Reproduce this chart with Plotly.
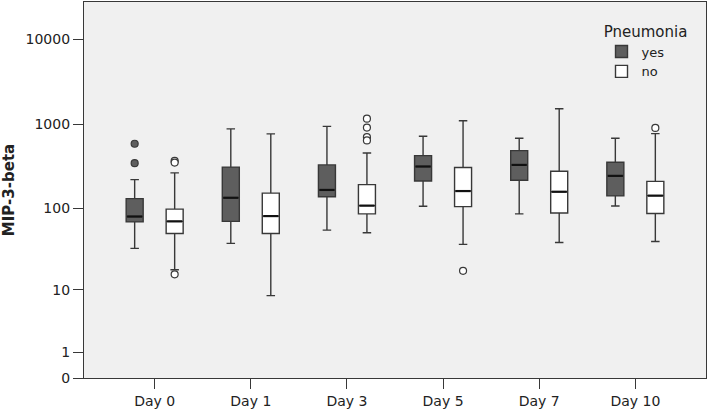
import numpy as np
import plotly.graph_objects as go

days = ["Day 0", "Day 1", "Day 3", "Day 5", "Day 7", "Day 10"]

# Pneumonia = yes
yes_low = [33, 38, 55, 106, 86, 107]
yes_q1 = [69, 70, 138, 212, 216, 141]
yes_med = [80, 134, 166, 315, 329, 244]
yes_q3 = [131, 310, 329, 424, 486, 354]
yes_high = [220, 879, 942, 719, 682, 682]
yes_out_day = ["Day 0", "Day 0"]
yes_out_val = [586, 345]

# Pneumonia = no
no_low = [18, 8.4, 51, 37, 39, 40]
no_q1 = [50, 50, 86, 105, 88, 87]
no_med = [70, 81, 108, 161, 158, 142]
no_q3 = [98, 152, 192, 306, 277, 210]
no_high = [265, 767, 455, 1098, 1518, 773]
no_out_day = ["Day 0", "Day 0", "Day 0", "Day 3", "Day 3", "Day 3", "Day 3", "Day 5", "Day 10"]
no_out_val = [367, 351, 15.8, 1159, 910, 701, 641, 17.5, 902]

y_ticks = [0, 1, 10, 100, 1000, 10000]


def tr(v):
    return np.log10(np.asarray(v, dtype=float) + 1.0)


idx = {d: i for i, d in enumerate(days)}
pos = np.arange(len(days), dtype=float)
OFF = 0.208
BW = 0.177
LINE = "#383838"
DARK = "#5e5e5e"

fig = go.Figure()

groups = [
    ("yes", -OFF, DARK, yes_low, yes_q1, yes_med, yes_q3, yes_high, yes_out_day, yes_out_val),
    ("no", OFF, "#ffffff", no_low, no_q1, no_med, no_q3, no_high, no_out_day, no_out_val),
]
for name, off, fill, lo, q1, md, q3, hi, od, ov in groups:
    fig.add_trace(go.Box(
        name=name, x=pos + off,
        lowerfence=tr(lo), q1=tr(q1), median=tr(md), q3=tr(q3), upperfence=tr(hi),
        width=BW, whiskerwidth=0.5,
        fillcolor=fill, line=dict(color=LINE, width=1.4),
        boxpoints=False, hoverinfo="skip", legendgroup=name,
    ))
    # emphasised median lines
    mx, my = [], []
    for p, m in zip(pos + off, tr(md)):
        mx += [p - BW / 2 + 0.01, p + BW / 2 - 0.01, None]
        my += [m, m, None]
    fig.add_trace(go.Scatter(
        x=mx, y=my, mode="lines", line=dict(color="#111111", width=2.2),
        showlegend=False, hoverinfo="skip", legendgroup=name,
    ))
    fig.add_trace(go.Scatter(
        x=np.array([idx[d] for d in od], dtype=float) + off, y=tr(ov),
        mode="markers", showlegend=False, legendgroup=name,
        marker=dict(size=7, color=fill, line=dict(color=LINE, width=1.2)),
        hoverinfo="skip",
    ))

fig.update_layout(
    width=708, height=410,
    margin=dict(l=84, r=1, t=1, b=29),
    paper_bgcolor="white", plot_bgcolor="#F0F0F0",
    font=dict(family="DejaVu Sans", size=14, color="#222222"),
    boxmode="overlay",
    legend=dict(
        title=dict(text="Pneumonia", side="top center", font=dict(size=15)),
        font=dict(size=13), x=0.832, y=0.96, xanchor="left", yanchor="top",
        bgcolor="rgba(0,0,0,0)", itemwidth=30, tracegroupgap=0,
    ),
    showlegend=True,
)
fig.update_xaxes(
    range=[-0.735, 5.735], tickmode="array", tickvals=pos, ticktext=days,
    ticks="outside", ticklen=10, tickcolor=LINE, tickwidth=1.3,
    showline=True, linecolor=LINE, linewidth=1.3, mirror=True,
    showgrid=False, zeroline=False, tickfont=dict(size=14),
)
fig.update_yaxes(
    range=[0, 4.444], tickmode="array", tickvals=tr(y_ticks),
    ticktext=[str(v) for v in y_ticks],
    ticks="outside", ticklen=10, tickcolor=LINE, tickwidth=1.3,
    showline=True, linecolor=LINE, linewidth=1.3, mirror=True,
    showgrid=False, zeroline=False, tickfont=dict(size=14),
    title=dict(text="<b>MIP-3-beta</b>", font=dict(size=15), standoff=8),
)

fig.write_html("out.html")
